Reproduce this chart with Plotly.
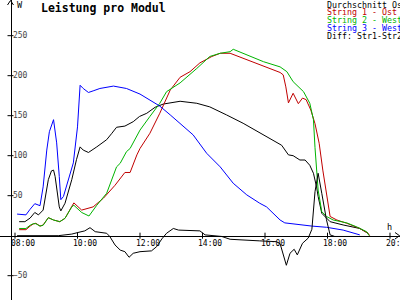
import plotly.graph_objects as go

DAY = "2024-06-01 "

# ---- data (time HH:MM, watts) ----
avg_t = ["08:08","08:19","08:29","08:38","08:45","08:54","09:04","09:10","09:14","09:17","09:25","09:28","09:36","09:49","09:58",
         "10:05","10:11","10:21","10:37","10:56","11:06","11:15","11:31","11:47","11:59","12:13","12:29","12:45","13:17","13:49",
         "14:14","14:34","14:46","15:18","15:49","16:03","16:32","16:45","16:54","17:07","17:17","17:26","17:33","17:39","17:42",
         "17:49","18:05","18:30","19:02","19:18"]
avg_w = [17.5,17.5,22,29,26,32,70,81,82,74,36,31,40.5,70,95,
         111,107,104,111,120,128,135.5,137,142.5,149,153,160.5,164.6,168,165.5,
         161,155,151,140.5,129,124,113,101,100,94.6,94.6,88,78,61,49,
         28,17.5,13.4,9,3]

str1_t = ["08:08","08:21","08:29","08:35","08:40","08:48","08:54","09:04","09:14","09:26","09:36","09:49","09:53","10:08","10:21",
          "10:30","10:50","11:12","11:31","11:41","11:54","12:00","12:19","12:38","12:58","13:17","13:36","13:55","14:18","14:34",
          "14:53","15:25","15:57","16:29","16:35","16:40","16:45","16:54","17:04","17:12","17:19","17:28","17:36","17:44","17:51",
          "17:57","18:05","18:18","18:37","19:02","19:18","19:21"]
str1_w = [7.5,7.5,12,14.6,15.5,12,13.4,22.5,19.6,17.5,21.7,36,41,32,34,
          36,47,63,79,79,101,109,128,153,182,198,205,216,224,228,
          228,220,211,204,201,186,166,178,165,172,170,157,140,115.5,82,
          57,24,19.6,15.5,9,3,0]

str2_t = ["08:08","08:21","08:29","08:35","08:40","08:48","08:54","09:04","09:14","09:26","09:36","09:49","09:53","10:08","10:22",
          "10:37","10:56","11:15","11:22","11:34","11:41","12:00","12:19","12:38","12:51","13:17","13:49","14:14","14:34","14:53",
          "14:59","15:25","15:57","16:29","16:42","16:54","17:14","17:26","17:33","17:36","17:39","17:42","17:49","17:58","18:11",
          "18:37","18:56","19:15","19:20"]
str2_w = [9,9,13,15,15,12,13,22.5,19.6,17.5,21.7,36,38,29,24.6,
          38,53,86,90.5,105,109,132,149,165.5,180,191,209,224,228,230,
          233,226,217.5,211,205,192.5,180,165.5,145,110,82,57,30,24,19.6,
          16,11,5,0]

str3_t = ["08:04","08:13","08:21","08:29","08:33","08:38","08:48","08:54","09:01","09:06","09:14","09:20","09:25","09:28","09:33",
          "09:42","09:52","10:00","10:05","10:11","10:21","10:30","10:43","11:09","11:34","12:00","12:19","12:38","12:58","13:17",
          "13:42","14:08","14:34","14:59","15:25","15:50","16:03","16:29","16:38","17:30","17:58","18:30","18:53","19:02"]
str3_w = [27,26,26,33,36,40,37.5,61,107,130,145,116,74,45,49,
          70,91,136,188,184,179,181,184,187,184,177,170,162,151,140.5,
          126,103,86,65.5,51,40.5,36,19.6,16,12,10.5,7,3,1]

diff_t = ["08:04","09:23","09:36","09:49","10:01","10:14","10:24","10:34","10:56","11:02","11:12","11:22","11:31","11:39","11:47",
          "12:00","12:22","12:32","12:42","12:51","13:04","13:14","13:55","14:05","14:37","14:53","15:50","16:22","16:29","16:41",
          "16:48","16:56","17:02","17:12","17:23","17:30","17:36","17:42","17:49","17:58","18:05","18:14","19:12"]
diff_w = [0,0,1,2,4,6,10,5,3,-1,-11.6,-18,-20,-27,-22,
          -20,-19,-13.7,-4,3,9,7,6,1,-1,-4.5,-6.5,-7.5,-10,-37,
          -22,-17,-24,-9.5,-3,8,55,78,53,20,1,-1,-1]

y_ticks = [-50, 50, 100, 150, 200, 250]
x_ticks = ["08:00","10:00","12:00","14:00","16:00","18:00","20:00"]
legend_names = ["Durchschnitt Ost", "String 1 - Ost", "String 2 - West", "String 3 - West", "Diff: Str1-Str2"]
colors = ["#000000", "#c00000", "#00b400", "#0000ff", "#000000"]

W, H = 400, 300
FONT = "DejaVu Sans Mono"

def ts(lst):
    return [DAY + s for s in lst]

series = [(avg_t, avg_w), (str1_t, str1_w), (str2_t, str2_w), (str3_t, str3_w), (diff_t, diff_w)]

fig = go.Figure()
for (t, w), name, c in zip(series, legend_names, colors):
    fig.add_trace(go.Scatter(x=ts(t), y=w, mode="lines", name=name,
                             line=dict(color=c, width=1), showlegend=False))

y_axis_px = 10.5
y_axis_frac = y_axis_px / W
y_range = [-80.4, 294.6]
x_pos_frac = (0 - y_range[0]) / (y_range[1] - y_range[0])

fig.update_layout(
    width=W, height=H, autosize=False, margin=dict(l=0, r=0, t=0, b=0, pad=0),
    paper_bgcolor="white", plot_bgcolor="white",
    font=dict(family=FONT, size=8, color="black"),
    xaxis=dict(type="date", range=[DAY + "07:31:12", DAY + "20:19:12"],
               anchor="free", position=x_pos_frac, automargin=False,
               showline=True, linecolor="black", linewidth=1,
               showgrid=False, zeroline=False,
               tickvals=ts(x_ticks), ticks="", showticklabels=False),
    yaxis=dict(range=y_range, anchor="free", position=y_axis_frac, automargin=False,
               showline=True, linecolor="black", linewidth=1,
               showgrid=False, zeroline=False,
               tickvals=y_ticks, ticks="",
               ticklabelposition="inside",
               tickfont=dict(family=FONT, size=8)),
)

shapes = []
for v in x_ticks:
    shapes.append(dict(type="line", xref="x", x0=DAY + v, x1=DAY + v,
                       yref="y", ysizemode="pixel", yanchor=0, y0=-3, y1=3,
                       line=dict(color="black", width=1)))
for v in y_ticks:
    shapes.append(dict(type="line", yref="y", y0=v, y1=v,
                       xref="paper", xsizemode="pixel", xanchor=y_axis_frac, x0=-3, x1=3,
                       line=dict(color="black", width=1)))

def px(x, y):
    return f"{x / W},{1 - y / H}"

# axis arrowheads
shapes.append(dict(type="path", xref="paper", yref="paper",
                   path=f"M{px(7.5, 5)} L{px(y_axis_px, 0.5)} L{px(13.5, 5)}",
                   line=dict(color="black", width=1)))
shapes.append(dict(type="path", xref="paper", yref="paper",
                   path=f"M{px(395, 232.5)} L{px(399.5, 235.7)} L{px(395, 239)}",
                   line=dict(color="black", width=1)))
fig.update_layout(shapes=shapes)

ann = []
# x tick labels (slightly right of the tick, as in the original)
for v in x_ticks:
    ann.append(dict(text=v, x=DAY + v, y=0, xref="x", yref="y",
                    xanchor="center", yanchor="middle", xshift=7.5, yshift=-7.8,
                    showarrow=False, font=dict(family=FONT, size=8)))
ann.append(dict(text="<b>Leistung pro Modul</b>", x=39 / W, y=1 - 7.5 / H, xref="paper", yref="paper",
                xanchor="left", yanchor="middle", showarrow=False,
                font=dict(family=FONT, size=11.5, color="black")))
ann.append(dict(text="W", x=15 / W, y=1 - 4.5 / H, xref="paper", yref="paper",
                xanchor="left", yanchor="middle", showarrow=False, font=dict(family=FONT, size=8.5)))
ann.append(dict(text="h", x=385 / W, y=1 - 227 / H, xref="paper", yref="paper",
                xanchor="left", yanchor="middle", showarrow=False, font=dict(family=FONT, size=8.5)))
leg_y = [4.5, 12.3, 20.1, 27.9, 35.7]
for name, c, yy in zip(legend_names, colors, leg_y):
    ann.append(dict(text=name, x=325 / W, y=1 - yy / H, xref="paper", yref="paper",
                    xanchor="left", yanchor="middle", showarrow=False,
                    font=dict(family=FONT, size=8.3, color=c)))
fig.update_layout(annotations=ann)

fig.write_html("out.html")
